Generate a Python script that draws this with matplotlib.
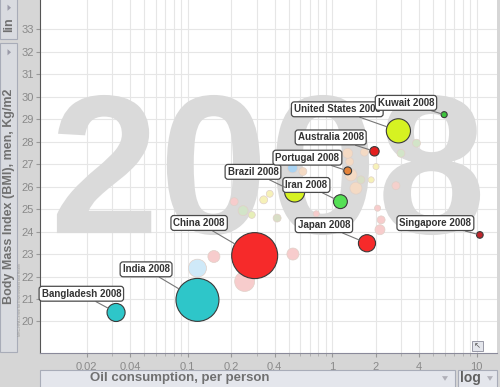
import numpy as np
import matplotlib.pyplot as plt
from matplotlib.ticker import FixedLocator, LogLocator, NullFormatter
from matplotlib.patches import Rectangle, Polygon, PathPatch
from matplotlib.textpath import TextPath
from matplotlib.font_manager import FontProperties
from matplotlib.transforms import Affine2D

plt.rcParams['font.family'] = ['Liberation Sans', 'DejaVu Sans']

# labelled countries, 2008
countries = ['Bangladesh', 'India', 'China', 'Japan', 'Singapore', 'Iran',
             'Brazil', 'Portugal', 'Australia', 'United States', 'Kuwait']
oil = [0.032, 0.117, 0.291, 1.74, 10.5, 1.14, 0.55, 1.28, 1.96, 2.87, 5.95]
bmi = [20.4, 20.96, 22.93, 23.48, 23.85, 25.33, 25.76, 26.7, 27.57, 28.48, 29.2]
population = [147, 1140, 1325, 128, 4.8, 72, 192, 10.6, 21, 304, 2.7]  # millions
colors = ['#2ec6c9', '#2ec6c9', '#f62a2a', '#f62a2a', '#c0262c', '#55e055',
          '#d6f222', '#e5833a', '#e3201f', '#d6f222', '#3cc43c']
label_offsets = [(-25, 13.5), (-37, 22), (-40, 23.5), (-31, 13), (-32, 8.5), (-24.5, 12),
                 (-30, 14.5), (-29, 9.5), (-31.5, 10), (-44, 15.5), (-27.5, 8.5)]

# other countries, faded
bg_oil = [0.152, 0.117, 0.248, 0.535, 0.21, 0.242, 0.336, 0.37, 0.278, 0.416, 0.776,
          0.532, 0.627, 1.32, 1.28, 1.67, 1.35, 1.46, 1.58, 2.01, 1.86, 2.76, 2.99,
          3.83, 2.06, 2.18, 2.14]
bg_bmi = [22.89, 22.37, 21.78, 23.0, 25.33, 24.93, 25.41, 25.68, 24.74, 24.6, 24.79,
          26.83, 26.67, 27.11, 27.48, 27.53, 26.52, 25.93, 26.3, 26.89, 26.3, 26.04, 27.48,
          27.93, 25.04, 24.52, 24.08]
bg_pop = [47, 146, 190, 47, 11, 26, 11, 6, 6, 11, 3,
          26, 11, 11, 26, 11, 47, 47, 11, 3, 3, 11, 11,
          11, 3, 11, 26]
bg_colors = ['#f7cccc', '#cfe9f8', '#f7cccc', '#f7cccc', '#f7cccc', '#d2e4c8', '#f6f1b8',
             '#f6f1b8', '#e6efb8', '#d8dec6', '#f7cccc', '#a9d3f2', '#f4dac4', '#f4dac4',
             '#f4dac4', '#f4dac4', '#f4dac4', '#f4dac4', '#d8dec6', '#f6f1b8', '#f6f1b8',
             '#f5d0cc', '#d2e4c8', '#d2e4c8', '#f7cccc', '#f7cccc', '#f7cccc']

xticks = [0.02, 0.04, 0.1, 0.2, 0.4, 1, 2, 4, 10]
xtick_labels = ['0.02', '0.04', '0.1', '0.2', '0.4', '1', '2', '4', '10']
yticks = list(range(20, 34))
year = '2008'


def radius_pt(pop):
    # bubble radius grows with sqrt(population), with a small floor
    return 0.72 * (2.06 + 0.575 * np.sqrt(np.array(pop, dtype=float)))


fig = plt.figure(figsize=(5, 3.87), dpi=100, facecolor='#d6d6d6')
ax = fig.add_axes([0.08, 0.088, 0.914, 0.912])
ax.set_facecolor('white')
ax.set_xscale('log')
ax.set_xlim(0.00953, 13.8)
ax.set_ylim(18.6, 34.3)

ax.xaxis.set_major_locator(FixedLocator(xticks))
ax.set_xticklabels(xtick_labels)
ax.xaxis.set_minor_locator(LogLocator(base=10, subs=np.arange(2, 10)))
ax.xaxis.set_minor_formatter(NullFormatter())
ax.set_yticks(yticks)
ax.tick_params(colors='#999999', labelcolor='#8a8a8a', labelsize=8, length=3, width=0.8)
ax.tick_params(axis='y', pad=1.5)
ax.tick_params(axis='x', which='minor', length=2, color='#aaaaaa')
ax.grid(True, which='both', color='#e6e6e6', linewidth=0.8)
ax.set_axisbelow(True)
for side in ['top', 'right']:
    ax.spines[side].set_visible(False)
ax.spines['left'].set_color('#555555')
ax.spines['bottom'].set_color('#8a8a9a')

# big year watermark, fitted into a box (axes fraction)
tp = TextPath((0, 0), year, size=1, prop=FontProperties(family='Liberation Sans', weight='bold'))
ext = tp.get_extents()
bx0, bx1, by0, by1 = 0.037, 0.963, 0.334, 0.731
tr = (Affine2D().translate(-ext.x0, -ext.y0)
      .scale((bx1 - bx0) / ext.width, (by1 - by0) / ext.height)
      .translate(bx0, by0))
ax.add_patch(PathPatch(tr.transform_path(tp), transform=ax.transAxes, fc='#dadada',
                       ec='none', zorder=1))

bg_s = (2 * radius_pt(bg_pop)) ** 2
ax.scatter(bg_oil, bg_bmi, s=bg_s, c=bg_colors, edgecolors='#e0d0c8', linewidths=0.5, zorder=2)

r = radius_pt(population)
ax.scatter(oil, bmi, s=(2 * r) ** 2, c=colors, edgecolors='#3a3a3a', linewidths=0.8, zorder=3)

for name, x, y, off, rad in zip(countries, oil, bmi, label_offsets, r):
    ax.annotate(name + ' ' + year, (x, y), xytext=off, textcoords='offset points',
                ha='center', va='center', fontsize=7, fontweight='bold', color='#333333',
                bbox=dict(boxstyle='round,pad=0.25,rounding_size=0.3', fc='white',
                          ec='#4a4a4a', lw=0.9),
                arrowprops=dict(arrowstyle='-', color='#777777', lw=0.8,
                                shrinkA=0, shrinkB=rad),
                zorder=5)

# left panel
fig.patches.append(Rectangle((0, 0.09), 17 / 500, 0.8, transform=fig.transFigure,
                             fc='#d9dbe0', ec='#a8acb8', lw=0.8))
fig.patches.append(Rectangle((0, 0.898), 17 / 500, 0.11, transform=fig.transFigure,
                             fc='#d9dbe0', ec='#a8acb8', lw=0.8))
for yy in [0.98, 0.865]:
    fig.patches.append(Polygon([[0.015, yy + 0.008], [0.015, yy - 0.008], [0.022, yy]],
                               closed=True, transform=fig.transFigure, fc='#9a9aa8', ec='none'))
fig.text(0.018, 0.935, 'lin', rotation=90, ha='center', va='center', fontsize=9,
         fontweight='bold', color='#707070')
fig.text(0.018, 0.494, 'Body Mass Index (BMI), men, Kg/m2', rotation=90, ha='center',
         va='center', fontsize=9, fontweight='bold', color='#707070')
fig.text(0.04, 0.225, 'MRC-HPA Centre for Environment and Health', rotation=90,
         ha='center', va='center', fontsize=2.6, color='#9a9a9a')

# bottom panel
fig.patches.append(Rectangle((0.08, -0.01), 0.83, 0.055, transform=fig.transFigure,
                             fc='#e4e6ec', ec='#a8acb8', lw=0.8))
fig.patches.append(Rectangle((0.916, -0.01), 0.078, 0.055, transform=fig.transFigure,
                             fc='#e4e6ec', ec='#a8acb8', lw=0.8))
fig.text(0.36, 0.022, 'Oil consumption, per person', ha='center', va='center',
         fontsize=9.5, fontweight='bold', color='#707070')
fig.text(0.94, 0.022, 'log', ha='center', va='center', fontsize=10,
         fontweight='bold', color='#606060')
for xx in [0.89, 0.98]:
    fig.patches.append(Polygon([[xx - 0.006, 0.028], [xx + 0.006, 0.028], [xx, 0.016]],
                               closed=True, transform=fig.transFigure, fc='#b0b0b8', ec='none'))

# small corner icon
fig.patches.append(Rectangle((0.944, 0.093), 0.022, 0.026, transform=fig.transFigure,
                             fc='#e4e6ec', ec='#8a8a9a', lw=0.6))
fig.text(0.955, 0.106, '\u2196', ha='center', va='center', fontsize=6, color='#555555',
         family='DejaVu Sans')

fig.savefig('out.png', dpi=100, facecolor=fig.get_facecolor())
